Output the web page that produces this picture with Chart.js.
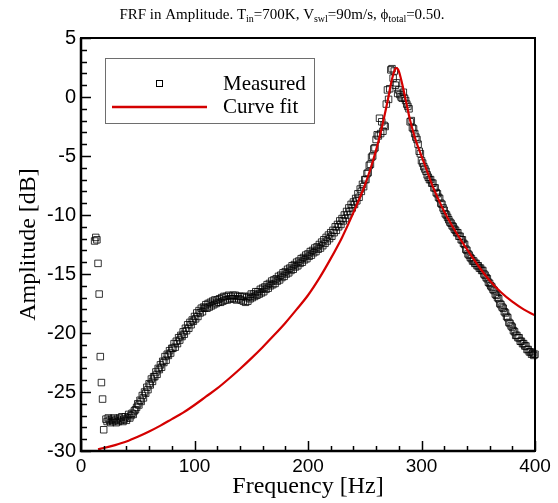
<!DOCTYPE html>
<html><head><meta charset="utf-8">
<script src="https://cdn.jsdelivr.net/npm/chart.js@4.4.1/dist/chart.umd.min.js"></script>
<style>html,body{margin:0;padding:0;background:#fff}#c{display:block}</style>
</head><body>
<canvas id="c" width="558" height="503"></canvas>
<script>
// ---- data ----
const measuredFreq = [12,13,14,15,16,17,18,19,20,
22,23,24,25,26,27,28,29,30,31,32,33,34,35,36,37,38,39,40,41,42,43,44,45,46,47,
48,49,50,51,52,53,54,55,56,57,
58,59,60,61,62,63,64,65,66,67,
68,69,70,71,72,73,74,75,76,77,
78,79,80,81,82,83,84,85,86,87,
88,89,90,91,92,93,94,95,96,97,
98,99,100,101,102,103,104,105,106,107,
108,109,110,111,112,113,114,115,116,117,
118,119,120,121,122,123,124,125,126,127,
128,129,130,131,132,133,134,135,136,137,
138,139,140,141,142,143,144,145,146,147,
148,149,150,151,152,153,154,155,156,157,
158,159,160,161,162,163,164,165,166,167,
168,169,170,171,172,173,174,175,176,177,
178,179,180,181,182,183,184,185,186,187,
188,189,190,191,192,193,194,195,196,197,
198,199,200,201,202,203,204,205,206,207,
208,209,210,211,212,213,214,215,216,217,
218,219,220,221,222,223,224,225,226,227,
228,229,230,231,232,233,234,235,236,237,
238,239,240,241,242,243,244,245,246,247,
248,249,250,251,252,253,254,255,256,257,
258,259,260,261,262,263,264,265,266,267,
268,269,270,271,272,273,274,275,276,277,
278,279,280,281,282,283,284,285,286,287,
288,289,290,291,292,293,294,295,296,297,
298,299,300,301,302,303,304,305,306,307,
308,309,310,311,312,313,314,315,316,317,
318,319,320,321,322,323,324,325,326,327,
328,329,330,331,332,333,334,335,336,337,
338,339,340,341,342,343,344,345,346,347,
348,349,350,351,352,353,354,355,356,357,
358,359,360,361,362,363,364,365,366,367,
368,369,370,371,372,373,374,375,376,377,
378,379,380,381,382,383,384,385,386,387,
388,389,390,391,392,393,394,395,396,397,
398,399,400];
const measuredAmp = [-12.2,-11.9,-12.1,-14.1,-16.7,-22.0,-24.2,-25.6,-28.2,
-27.3,-27.5,-27.2,-27.4,-27.6,-27.3,-27.5,-27.2,-27.4,-27.6,-27.3,-27.5,-27.2,-27.4,-27.1,-27.5,-27.3,-27.1,-27.4,-27.2,-26.9,-27.2,-27.0,-26.8,-26.9,-26.6,
-26.5,-26.3,-26.0,-26.1,-25.7,-25.8,-25.3,-25.5,-25.0,-25.1,
-24.6,-24.8,-24.3,-24.4,-23.9,-24.1,-23.7,-23.7,-23.3,-23.5,
-23.0,-23.1,-22.7,-22.9,-22.4,-22.5,-22.0,-22.3,-21.8,-21.9,
-21.5,-21.7,-21.3,-21.3,-20.9,-21.2,-20.7,-20.9,-20.4,-20.6,
-20.2,-20.3,-19.9,-20.1,-19.6,-19.8,-19.3,-19.6,-19.1,-19.3,
-18.9,-19.0,-18.6,-18.8,-18.3,-18.6,-18.1,-18.3,-17.9,-18.2,
-17.8,-17.9,-17.6,-17.9,-17.5,-17.8,-17.4,-17.7,-17.3,-17.6,
-17.2,-17.5,-17.2,-17.4,-17.1,-17.4,-17.0,-17.3,-16.9,-17.2,
-16.9,-17.2,-16.8,-17.1,-16.9,-17.1,-16.8,-17.1,-16.8,-17.2,
-16.9,-17.1,-16.9,-17.2,-16.9,-17.3,-16.9,-17.4,-17.0,-17.3,
-16.9,-17.1,-16.7,-17.0,-16.7,-16.9,-16.5,-16.8,-16.5,-16.7,
-16.3,-16.6,-16.2,-16.5,-16.1,-16.3,-15.9,-16.2,-15.8,-16.0,
-15.6,-15.9,-15.5,-15.8,-15.4,-15.6,-15.2,-15.5,-15.1,-15.3,
-14.9,-15.2,-14.8,-15.0,-14.6,-14.9,-14.5,-14.7,-14.3,-14.6,
-14.2,-14.4,-14.0,-14.3,-13.9,-14.1,-13.7,-14.0,-13.6,-13.8,
-13.4,-13.7,-13.3,-13.5,-13.1,-13.4,-13.0,-13.2,-12.8,-13.1,
-12.7,-12.9,-12.5,-12.8,-12.3,-12.6,-12.1,-12.4,-11.9,-12.2,
-11.7,-12.0,-11.5,-11.8,-11.3,-11.5,-11.0,-11.3,-10.8,-11.0,
-10.5,-10.8,-10.3,-10.5,-10.0,-10.3,-9.7,-10.0,-9.4,-9.7,
-9.1,-9.4,-8.9,-9.1,-8.6,-8.8,-8.2,-8.5,-7.8,-8.0,
-7.4,-7.6,-7.0,-7.0,-6.5,-6.4,-5.8,-5.7,-5.1,-5.0,
-4.4,-4.3,-3.6,-3.2,-3.3,-1.8,-3.1,-2.1,-2.9,-2.4,
-2.5,-0.6,0.6,-0.2,0.7,2.3,2.4,1.6,2.2,1.0,
1.2,0.3,0.6,0.2,0.0,-0.1,0.4,-0.1,-0.3,-0.6,
-0.8,-1.0,-2.1,-2.0,-2.6,-2.7,-3.1,-3.4,-3.6,-4.0,
-4.6,-4.8,-5.4,-5.6,-5.9,-6.1,-6.3,-6.6,-6.8,-7.0,
-7.0,-7.3,-7.3,-7.7,-7.7,-8.1,-8.2,-8.5,-8.6,-9.0,
-9.1,-9.4,-9.6,-9.9,-10.0,-10.2,-10.4,-10.6,-10.7,-10.9,
-11.0,-11.2,-11.3,-11.5,-11.5,-11.8,-11.8,-12.1,-12.1,-12.4,
-12.5,-12.9,-13.0,-13.3,-13.4,-13.6,-13.7,-13.9,-13.9,-14.1,
-14.1,-14.3,-14.3,-14.5,-14.5,-14.7,-14.7,-15.0,-15.1,-15.3,
-15.4,-15.7,-15.8,-16.0,-16.1,-16.3,-16.4,-16.7,-16.8,-17.0,
-17.1,-17.5,-17.6,-17.8,-17.9,-18.2,-18.3,-18.6,-18.7,-19.1,
-19.2,-19.4,-19.5,-19.8,-19.9,-20.2,-20.2,-20.4,-20.4,-20.7,
-20.7,-20.9,-20.9,-21.1,-21.1,-21.4,-21.4,-21.6,-21.6,-21.8,
-21.7,-21.9,-21.8];

const fitFreq = [15,20,30,40,50,60,70,80,90,100,110,120,130,140,150,160,170,180,190,200,
210,220,230,240,250,255,260,265,270,274,277,278,280,283,286,290,295,300,305,310,315,320,
330,340,350,360,370,380,390,400];
const fitAmp = [-29.85,-29.75,-29.5,-29.2,-28.8,-28.35,-27.85,-27.3,-26.75,-26.1,-25.4,-24.7,-23.9,-23.05,-22.15,-21.2,-20.2,-19.15,-18.0,-16.8,
-15.35,-13.7,-11.9,-9.8,-7.5,-6.1,-4.5,-2.6,-0.4,1.5,2.4,2.45,2.2,1.1,-0.2,-2.0,-3.7,-5.0,-6.3,-7.6,-8.7,-9.7,
-11.4,-12.9,-14.3,-15.55,-16.55,-17.35,-18.0,-18.5];

const xTickLabels = ['0','100','200','300','400'];
const yTickLabels = ['-30','-25','-20','-15','-10','-5','0','5'];
const seriesNames = ['Measured','Curve fit'];
const titleParts = [['FRF in Amplitude. T',0],['in',1],['=700K, V',0],['swl',1],['=90m/s, \u03d5',0],['total',1],['=0.50.',0]];
const xAxisTitle = 'Frequency [Hz]';
const yAxisTitle = 'Amplitude [dB]';

const RED = '#d40000';
const SERIF = '"Liberation Serif", "Times New Roman", serif';
const SANS = '"Liberation Sans", Arial, sans-serif';

const measuredPts = measuredFreq.map((f,i)=>({x:f,y:measuredAmp[i]}));
const fitPts = fitFreq.map((f,i)=>({x:f,y:fitAmp[i]}));

const decorPlugin = {
  id:'decor',
  afterDraw(chart){
    const ctx = chart.ctx, a = chart.chartArea;
    const xs = chart.scales.x, ys = chart.scales.y;
    ctx.save();
    ctx.strokeStyle = '#000'; ctx.lineWidth = 1.5;
    ctx.beginPath();
    for (let v=0; v<=400; v+=20){
      const px = Math.round(xs.getPixelForValue(v))+0.5;
      const len = (v%100===0)?10:5;
      ctx.moveTo(px,a.bottom); ctx.lineTo(px,a.bottom-len);
    }
    for (let v=-30; v<=5; v+=1){
      const py = Math.round(ys.getPixelForValue(v))+0.5;
      const len = (v%5===0)?10:6;
      ctx.moveTo(a.left,py); ctx.lineTo(a.left+len,py);
    }
    ctx.stroke();
    ctx.lineWidth = 2;
    ctx.strokeRect(a.left, a.top, a.right-a.left, a.bottom-a.top);
    ctx.lineWidth = 2.5;
    ctx.beginPath();
    ctx.moveTo(a.left,a.top); ctx.lineTo(a.left,a.bottom); ctx.lineTo(a.right,a.bottom);
    ctx.stroke();

    const big = '15px '+SERIF, small = '10px '+SERIF;
    let w = 0;
    titleParts.forEach(p=>{ctx.font = p[1]?small:big; w += ctx.measureText(p[0]).width;});
    let x = 282 - w/2; const by = 19;
    ctx.fillStyle = '#000'; ctx.textBaseline = 'alphabetic'; ctx.textAlign = 'left';
    titleParts.forEach(p=>{
      ctx.font = p[1]?small:big;
      ctx.fillText(p[0], x, p[1]?by+3:by);
      x += ctx.measureText(p[0]).width;
    });

    ctx.font = '24px '+SERIF;
    ctx.textAlign = 'center';
    ctx.fillText(xAxisTitle, (a.left+a.right)/2, 493);
    ctx.save();
    ctx.translate(35, (a.top+a.bottom)/2);
    ctx.rotate(-Math.PI/2);
    ctx.fillText(yAxisTitle, 0, 0);
    ctx.restore();

    ctx.fillStyle = '#fff';
    ctx.fillRect(105.5,58.5,209,65);
    ctx.strokeStyle = '#6e6e6e'; ctx.lineWidth = 1;
    ctx.strokeRect(105.5,58.5,209,65);
    ctx.strokeStyle = '#000'; ctx.lineWidth = 1;
    ctx.strokeRect(156.5,80.5,6,6);
    ctx.strokeStyle = RED; ctx.lineWidth = 2.5;
    ctx.beginPath(); ctx.moveTo(112,107); ctx.lineTo(207,107); ctx.stroke();
    ctx.fillStyle = '#000'; ctx.font = '21px '+SERIF; ctx.textAlign='left'; ctx.textBaseline='middle';
    ctx.fillText(seriesNames[0], 223, 84);
    ctx.fillText(seriesNames[1], 223, 107);
    ctx.restore();
  }
};

new Chart(document.getElementById('c'), {
  type:'scatter',
  data:{datasets:[
    {label:seriesNames[0], data:measuredPts, showLine:false, pointStyle:'rect', pointRadius:4.6,
     pointBorderWidth:1, pointBorderColor:'rgba(0,0,0,0.8)', pointBackgroundColor:'rgba(0,0,0,0)', order:2, clip:false},
    {label:seriesNames[1], data:fitPts, showLine:true, pointRadius:0, borderColor:RED, borderWidth:2.2,
     cubicInterpolationMode:'monotone', fill:false, order:1}
  ]},
  options:{
    responsive:false, animation:false, devicePixelRatio:1,
    layout:{padding:{left:0,right:23,top:38,bottom:0}},
    plugins:{legend:{display:false}, title:{display:false}, tooltip:{enabled:false}},
    scales:{
      x:{type:'linear', min:0, max:400,
         afterFit(s){s.height=52;},
         grid:{display:false, drawTicks:false},
         border:{display:false},
         ticks:{stepSize:100, autoSkip:false, maxRotation:0, padding:4, color:'#000',
                font:{family:SANS, size:19},
                callback:(v)=>{const i=[0,100,200,300,400].indexOf(v); return i>=0?xTickLabels[i]:'';}}},
      y:{type:'linear', min:-30, max:5,
         afterFit(s){s.width=81;},
         grid:{display:false, drawTicks:false},
         border:{display:false},
         ticks:{stepSize:5, autoSkip:false, padding:5, color:'#000',
                font:{family:SANS, size:20},
                callback:(v)=>{const i=[-30,-25,-20,-15,-10,-5,0,5].indexOf(v); return i>=0?yTickLabels[i]:'';}}}
    }
  },
  plugins:[decorPlugin]
});
</script>
</body></html>
